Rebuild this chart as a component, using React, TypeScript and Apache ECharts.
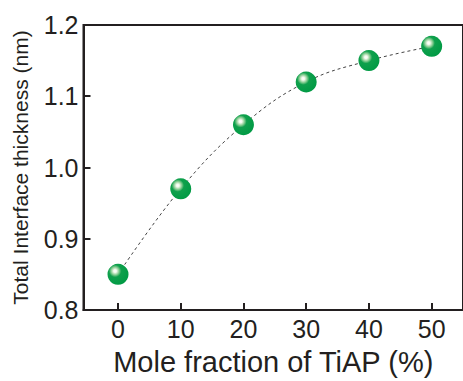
import React, { useEffect, useRef } from "react";
import * as echarts from "echarts";

const moleFraction = [0, 10, 20, 30, 40, 50];
const thickness = [0.85, 0.97, 1.06, 1.12, 1.15, 1.17];
const xTickValues = [0, 10, 20, 30, 40, 50];
const xAxisTitle = "Mole fraction of TiAP (%)";
const yAxisTitle = "Total Interface thickness (nm)";

const INK = "#231f20";
const FONT = "Liberation Sans, Arial, Helvetica, sans-serif";

export default function App() {
  const ref = useRef<HTMLDivElement>(null);
  useEffect(() => {
    if (!ref.current) return;
    const chart = echarts.init(ref.current, null, { renderer: "svg" });
    const sphere = new echarts.graphic.RadialGradient(0.36, 0.34, 0.7, [
      { offset: 0, color: "#ffffff" },
      { offset: 0.1, color: "#f4faee" },
      { offset: 0.26, color: "#8ccf95" },
      { offset: 0.42, color: "#0fa04c" },
      { offset: 1, color: "#009a44" },
    ]);
    chart.setOption({
      animation: false,
      grid: {
        left: 83.5,
        top: 25,
        right: -8.5,
        bottom: 70,
        show: true,
        borderColor: INK,
        borderWidth: 2,
        backgroundColor: "transparent",
      },
      xAxis: {
        type: "value",
        min: -5.5,
        max: 55,
        name: xAxisTitle,
        nameLocation: "middle",
        nameGap: 37,
        nameTextStyle: { fontSize: 29, color: INK, fontFamily: FONT },
        axisLine: { show: true, onZero: false, lineStyle: { color: INK, width: 2 } },
        axisTick: {
          show: true,
          inside: true,
          length: 7,
          customValues: xTickValues,
          lineStyle: { color: INK, width: 2 },
        },
        axisLabel: {
          customValues: xTickValues,
          fontSize: 25,
          color: INK,
          fontFamily: FONT,
          margin: 6,
        },
        splitLine: { show: false },
      },
      yAxis: {
        type: "value",
        min: 0.8,
        max: 1.2,
        interval: 0.1,
        name: yAxisTitle,
        nameLocation: "middle",
        nameGap: 53,
        nameTextStyle: { fontSize: 21, color: INK, fontFamily: FONT },
        axisLine: { show: true, onZero: false, lineStyle: { color: INK, width: 2 } },
        axisTick: { show: true, inside: true, length: 7, lineStyle: { color: INK, width: 2 } },
        axisLabel: {
          fontSize: 25,
          color: INK,
          fontFamily: FONT,
          margin: 5,
          formatter: (v: number) => v.toFixed(1),
        },
        splitLine: { show: false },
      },
      series: [
        {
          type: "line",
          data: moleFraction.map((x, i) => [x, thickness[i]]),
          smooth: 0.4,
          symbol: "circle",
          symbolSize: 21,
          lineStyle: { color: "#444", width: 1, type: [3, 3] },
          itemStyle: { color: sphere },
          z: 3,
        },
      ],
    });
    return () => chart.dispose();
  }, []);
  return (
    <div
      ref={ref}
      style={{ position: "fixed", left: 0, top: 0, width: 463, height: 381, background: "#fff" }}
    />
  );
}
